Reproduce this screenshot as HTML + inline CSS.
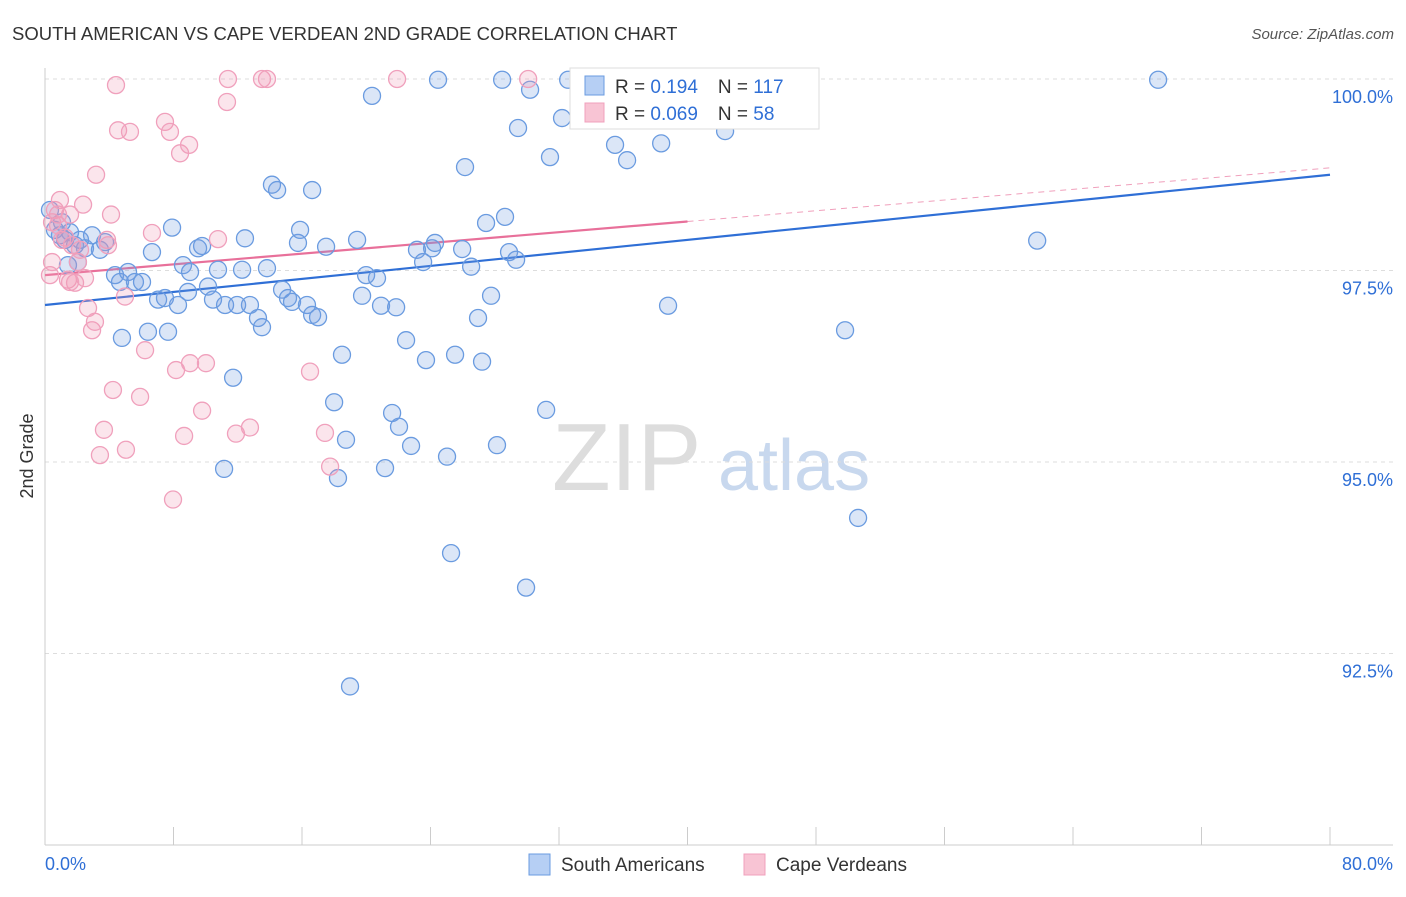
<!DOCTYPE html>
<html><head><meta charset="utf-8"><style>
body{margin:0;background:#fff;font-family:"Liberation Sans",sans-serif;}
svg text{font-family:"Liberation Sans",sans-serif;}
</style></head><body>
<svg id="chart" width="1406" height="892" xmlns="http://www.w3.org/2000/svg">
<text x="12" y="40" font-size="18.5" fill="#333">SOUTH AMERICAN VS CAPE VERDEAN 2ND GRADE CORRELATION CHART</text>
<text x="1394" y="39" font-size="15" fill="#555" font-style="italic" text-anchor="end">Source: ZipAtlas.com</text>
<text x="33" y="456" font-size="18" fill="#333" transform="rotate(-90 33 456)" text-anchor="middle">2nd Grade</text>
<g><text x="552" y="490" font-size="96" fill="#ddd" font-family="Liberation Serif,serif">ZIP</text><text x="718" y="490" font-size="72" fill="#c8d8ee">atlas</text></g>
<g id="grid"></g><g id="axes"></g><g id="trend"></g><g id="pts"></g>
<g>
<rect x="570" y="68" width="249" height="61" fill="#fff" stroke="#ddd"/>
<rect x="585" y="76" width="19" height="19" fill="#b6cff4" stroke="#6a9be0"/>
<rect x="585" y="103" width="19" height="19" fill="#f8c4d4" stroke="#f0a0bc"/>
<text x="615" y="93" font-size="19" fill="#333">R = <tspan fill="#2f6fd6"> 0.194</tspan><tspan dx="20">N = </tspan><tspan fill="#2f6fd6">117</tspan></text>
<text x="615" y="120" font-size="19" fill="#333">R = <tspan fill="#2f6fd6">0.069</tspan><tspan dx="20">N = </tspan><tspan fill="#2f6fd6"> 58</tspan></text>
</g>
<g>
<rect x="529" y="854" width="21" height="21" fill="#b6cff4" stroke="#6a9be0"/>
<text x="561" y="871" font-size="19" fill="#333">South Americans</text>
<rect x="744" y="854" width="21" height="21" fill="#f8c4d4" stroke="#f0a0bc"/>
<text x="776" y="871" font-size="19" fill="#333">Cape Verdeans</text>
</g>
</svg>
<script>
const blueX=[.31,.62,.93,1.25,1.56,1.06,1.87,2.18,1.43,2.49,2.93,3.42,3.74,2.05,4.36,4.67,5.17,5.60,6.04,4.79,6.41,6.66,7.04,7.47,7.66,7.91,8.28,8.59,9.03,8.90,9.53,9.78,10.15,10.46,10.77,11.21,11.71,11.96,12.27,12.45,12.76,13.26,13.51,13.82,14.13,14.45,14.76,15.13,15.38,15.75,15.88,16.31,16.63,17.00,16.63,17.50,18.00,18.24,18.49,18.74,18.99,19.43,19.74,19.99,20.36,20.67,20.92,21.17,21.61,21.86,22.04,22.48,22.79,23.16,23.54,23.72,24.10,24.28,24.47,25.03,25.28,25.53,25.97,26.15,26.53,26.96,27.21,27.46,27.77,28.14,28.46,28.64,28.89,29.33,29.45,29.95,30.20,31.20,31.44,32.19,32.57,34.56,35.49,36.24,37.05,38.36,38.79,39.23,40.78,42.34,49.81,50.62,61.77,69.30,11.15];
const blueY=[98.29,98.03,97.96,97.90,98.00,98.13,97.83,97.90,97.57,97.79,97.96,97.77,97.87,97.61,97.44,97.35,97.48,97.35,97.35,96.62,96.70,97.74,97.12,97.14,96.70,98.06,97.05,97.57,97.48,97.22,97.79,97.82,97.29,97.12,97.51,97.05,96.10,97.05,97.51,97.92,97.05,96.88,96.76,97.53,98.62,98.55,97.25,97.14,97.09,97.86,98.03,97.05,96.92,96.89,98.55,97.81,95.78,94.79,96.40,95.29,92.07,97.90,97.17,97.44,99.78,97.40,97.04,94.92,95.64,97.02,95.46,96.59,95.21,97.77,97.61,96.33,97.79,97.86,99.99,95.07,93.81,96.40,97.78,98.85,97.55,96.88,96.31,98.12,97.17,95.22,99.99,98.20,97.74,97.64,99.36,93.36,99.86,95.68,98.98,99.49,99.99,99.57,99.14,98.94,99.62,99.16,97.04,99.99,99.73,99.32,96.72,94.27,97.89,99.99,94.91];
const pinkX=[.31,.44,.62,.81,.93,1.25,1.43,1.56,1.68,1.87,2.05,2.37,2.49,2.68,2.93,3.11,3.18,3.42,3.67,3.86,4.11,4.23,4.42,4.55,4.98,5.04,5.29,5.92,6.23,6.66,7.47,7.78,7.97,8.16,8.41,8.66,8.97,9.03,9.78,10.02,10.77,11.33,11.39,11.89,12.76,13.51,13.82,16.50,17.43,17.75,21.92,30.08,.44,.81,1.06,1.56,2.18,3.92];
const pinkY=[97.44,97.61,98.29,98.09,98.42,97.93,97.38,98.23,97.83,97.34,97.61,98.36,97.40,97.01,96.72,96.83,98.75,95.09,95.42,97.90,98.23,95.94,99.92,99.33,97.16,95.16,99.31,95.85,96.46,97.99,99.44,99.31,94.51,96.20,99.03,95.34,99.14,96.29,95.67,96.29,97.91,99.70,100,95.37,95.45,100,100,96.18,95.38,94.94,100,100,98.13,98.23,97.90,97.35,97.77,97.83];
const blueTrend=[97.05,98.75];
const pinkTrend=[97.44,98.84];
const yTicks=[100,97.5,95,92.5];
const yTickLabels=["100.0%","97.5%","95.0%","92.5%"];
const NS="http://www.w3.org/2000/svg";
const X=v=>45+v*(1285/80), Y=v=>79+(100-v)*76.6;
function mk(t,a,p){const e=document.createElementNS(NS,t);for(const k in a)e.setAttribute(k,a[k]);document.getElementById(p).appendChild(e);return e;}
yTicks.forEach((t,i)=>{
 const g=mk('line',{x1:45,x2:1393,y1:Y(t),y2:Y(t),stroke:'#ddd','stroke-dasharray':'4,4'},'grid');
 
 
 const l=mk('text',{x:1393,y:Y(t)+24,'font-size':18,fill:'#2f6fd6','text-anchor':'end'},'axes');
 l.textContent=yTickLabels[i];
 
 
});
mk('line',{x1:45,x2:45,y1:68,y2:845,stroke:'#ccc'},'axes');
mk('line',{x1:45,x2:1393,y1:845,y2:845,stroke:'#ccc'},'axes');
for(let i=0;i<=10;i++){const t=mk('line',{x1:X(i*8),x2:X(i*8),y1:827,y2:845,stroke:'#ccc'},'axes');}
const x0=mk('text',{x:45,y:870,'font-size':18,fill:'#2f6fd6'},'axes');x0.textContent='0.0%';


const x1=mk('text',{x:1393,y:870,'font-size':18,fill:'#2f6fd6','text-anchor':'end'},'axes');x1.textContent='80.0%';


function draw(xs,ys,fill,stroke,name){xs.forEach((x,i)=>{const c=mk('circle',{cx:X(x),cy:Y(ys[i]),r:8.5,fill:fill,stroke:stroke,'stroke-width':1.3},'pts');
 
 });}
draw(blueX,blueY,'rgba(110,155,225,0.25)','#6a9be0','south-american-point');
draw(pinkX,pinkY,'rgba(240,150,180,0.25)','#f0a0bc','cape-verdean-point');
const bt=mk('line',{x1:X(0),y1:Y(blueTrend[0]),x2:X(80),y2:Y(blueTrend[1]),stroke:'#2f6fd6','stroke-width':2.2},'trend');


const pm=pinkTrend[0]+(pinkTrend[1]-pinkTrend[0])*0.5;
const pt=mk('line',{x1:X(0),y1:Y(pinkTrend[0]),x2:X(40),y2:Y(pm),stroke:'#e8709a','stroke-width':2.2},'trend');


const pd=mk('line',{x1:X(40),y1:Y(pm),x2:X(80),y2:Y(pinkTrend[1]),stroke:'#f0a0bc','stroke-width':1,'stroke-dasharray':'6,5'},'trend');


</script>
</body></html>
